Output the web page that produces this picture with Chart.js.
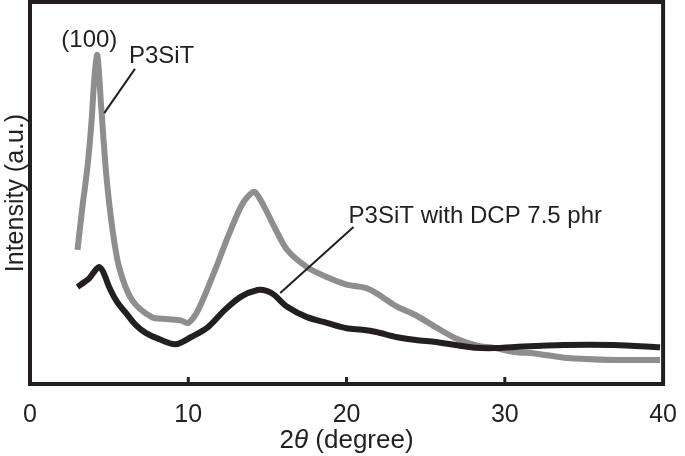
<!DOCTYPE html>
<html>
<head>
<meta charset="utf-8">
<script src="https://cdn.jsdelivr.net/npm/chart.js@4"></script>
<style>
  html, body { margin: 0; padding: 0; background: #fff; }
  #wrap { width: 685px; height: 456px; }
</style>
</head>
<body>
<div id="wrap"><canvas id="xrd"></canvas></div>
<script>
// 2theta (degree) and intensity (a.u.)
const P3SIT_X = [3.0, 3.31, 3.63, 3.88, 4.06, 4.25, 4.5, 4.81, 5.19, 5.63, 6.44, 7.69, 8.6, 9.56, 10.0, 10.63, 11.69, 12.5, 13.31, 13.75, 14.19, 14.81, 15.44, 16.25, 17.5, 18.75, 20.0, 20.63, 21.25, 21.88, 23.13, 24.38, 25.63, 26.88, 28.13, 29.38, 30.63, 31.88, 33.75, 36.88, 39.81];
const P3SIT_Y = [35.1, 46.3, 56.8, 68.3, 79.6, 86.1, 72.5, 55.2, 41.1, 30.6, 22.0, 17.5, 17.0, 16.6, 16.0, 19.4, 29.8, 38.5, 46.3, 49.0, 50.3, 46.3, 41.1, 35.1, 30.6, 28.0, 26.0, 25.6, 25.1, 23.8, 20.4, 18.0, 14.9, 12.0, 10.2, 9.4, 8.4, 8.0, 6.9, 6.3, 6.3];

const DCP_X = [3.0, 3.44, 3.75, 4.13, 4.38, 4.63, 5.0, 5.5, 6.06, 6.69, 7.31, 8.13, 9.19, 10.19, 11.25, 12.31, 13.31, 14.38, 15.0, 15.44, 16.25, 17.5, 18.75, 20.0, 21.0, 21.88, 23.13, 24.38, 25.63, 26.88, 28.13, 29.38, 30.63, 33.75, 36.88, 39.81];
const DCP_Y = [25.4, 26.7, 27.7, 29.8, 30.6, 29.3, 25.4, 21.5, 18.6, 15.4, 13.4, 11.8, 10.4, 12.3, 14.9, 19.4, 22.8, 24.6, 24.3, 23.3, 20.2, 17.5, 16.0, 14.6, 14.2, 13.6, 12.3, 11.5, 11.0, 10.2, 9.5, 9.4, 9.7, 10.2, 10.2, 9.6];

const X_TICKS = [0, 10, 20, 30, 40];
const X_TITLE = ["2", "θ", " (degree)"];
const Y_TITLE = "Intensity (a.u.)";

// labels and leader lines, in data units
const LABELS = [
  { text: "(100)", x: 3.75, y: 88.2, align: "center" },
  { text: "P3SiT", x: 6.25, y: 84.0, align: "left" },
  { text: "P3SiT with DCP 7.5 phr", x: 20.13, y: 42.1, align: "left" },
];
const LEADERS = [
  [6.63, 82.5, 4.69, 70.9],
  [20.44, 41.1, 15.81, 23.8],
];

const INK = "#231f20";
const FONT = "'Liberation Sans', Arial, sans-serif";

const toPoints = (xs, ys) => xs.map((x, i) => ({ x: x, y: ys[i] }));

// frame, inward ticks, annotations and axis titles
const decorPlugin = {
  id: "decor",
  afterDraw(chart) {
    const ctx = chart.ctx;
    const area = chart.chartArea;
    const xs = chart.scales.x;
    const ys = chart.scales.y;
    ctx.save();
    ctx.strokeStyle = INK;
    ctx.lineWidth = 4;
    ctx.strokeRect(area.left, area.top, area.right - area.left, area.bottom - area.top);

    ctx.lineWidth = 3;
    X_TICKS.slice(1, -1).forEach((t) => {
      const px = xs.getPixelForValue(t);
      ctx.beginPath();
      ctx.moveTo(px, area.bottom);
      ctx.lineTo(px, area.bottom - 7);
      ctx.stroke();
    });

    ctx.lineWidth = 2;
    LEADERS.forEach((l) => {
      ctx.beginPath();
      ctx.moveTo(xs.getPixelForValue(l[0]), ys.getPixelForValue(l[1]));
      ctx.lineTo(xs.getPixelForValue(l[2]), ys.getPixelForValue(l[3]));
      ctx.stroke();
    });

    ctx.fillStyle = INK;
    ctx.font = "24px " + FONT;
    ctx.textBaseline = "alphabetic";
    LABELS.forEach((lb) => {
      ctx.textAlign = lb.align;
      ctx.fillText(lb.text, xs.getPixelForValue(lb.x), ys.getPixelForValue(lb.y));
    });

    // x title with italic theta
    const fonts = ["26px " + FONT, "italic 26px " + FONT, "26px " + FONT];
    let total = 0;
    const widths = X_TITLE.map((s, i) => {
      ctx.font = fonts[i];
      const w = ctx.measureText(s).width;
      total += w;
      return w;
    });
    let cx = (area.left + area.right) / 2 - total / 2;
    ctx.textAlign = "left";
    X_TITLE.forEach((s, i) => {
      ctx.font = fonts[i];
      ctx.fillText(s, cx, 448);
      cx += widths[i];
    });

    // y title
    ctx.font = "25px " + FONT;
    ctx.translate(23, (area.top + area.bottom) / 2);
    ctx.rotate(-Math.PI / 2);
    ctx.textAlign = "center";
    ctx.fillText(Y_TITLE, 0, 0);
    ctx.restore();
  },
};

new Chart(document.getElementById("xrd"), {
  type: "line",
  data: {
    datasets: [
      {
        label: "P3SiT with DCP 7.5 phr",
        data: toPoints(DCP_X, DCP_Y),
        borderColor: "#231f20",
        borderWidth: 6,
        pointRadius: 0,
        tension: 0.3,
      },
      {
        label: "P3SiT",
        data: toPoints(P3SIT_X, P3SIT_Y),
        borderColor: "#8e8e91",
        borderWidth: 6,
        pointRadius: 0,
        tension: 0.3,
      },
    ],
  },
  options: {
    responsive: true,
    maintainAspectRatio: false,
    animation: false,
    layout: { padding: { left: 30, right: 15, top: 2, bottom: 0 } },
    plugins: {
      legend: { display: false },
      tooltip: { enabled: false },
    },
    scales: {
      x: {
        type: "linear",
        min: 0,
        max: 40,
        afterFit: (scale) => { scale.height = 72; },
        afterBuildTicks: (scale) => {
          scale.ticks = X_TICKS.map((v) => ({ value: v }));
        },
        grid: { display: false },
        border: { display: false },
        ticks: {
          padding: 8,
          maxRotation: 0,
          color: INK,
          font: { size: 25, family: FONT },
        },
      },
      y: {
        min: 0,
        max: 100,
        display: false,
      },
    },
  },
  plugins: [decorPlugin],
});
</script>
</body>
</html>
